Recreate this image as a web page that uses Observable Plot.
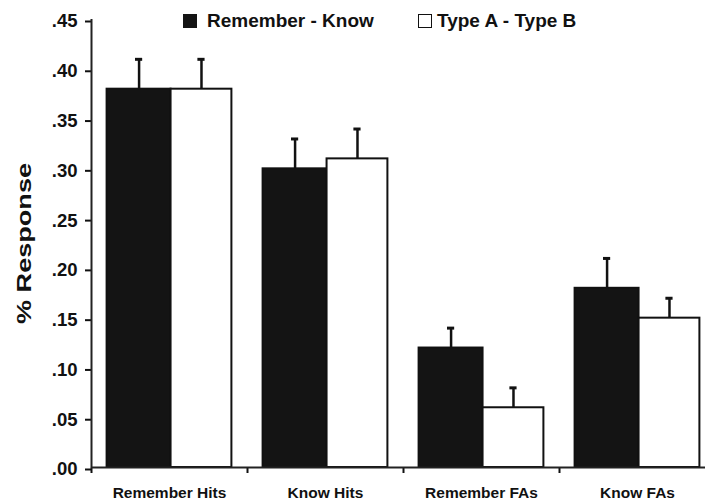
<!DOCTYPE html>
<html>
<head>
<meta charset="utf-8">
<script src="https://cdn.jsdelivr.net/npm/d3@7"></script>
<script src="https://cdn.jsdelivr.net/npm/@observablehq/plot@0.6"></script>
<style>
  html, body { margin: 0; padding: 0; overflow: hidden; background: #fff; }
  #wrap { position: relative; width: 705px; height: 501px; font-family: "Liberation Sans", Arial, sans-serif; font-weight: bold; color: #111; }
  .leg { position: absolute; top: 9px; font-size: 19px; line-height: 24px; white-space: nowrap; display: flex; align-items: center; }
  .sw { display: inline-block; width: 14px; height: 14px; box-sizing: border-box; margin-right: 9px; }
</style>
</head>
<body>
<div id="wrap"></div>
<script>
const categories = ["Remember Hits", "Know Hits", "Remember FAs", "Know FAs"];
const seriesNames = ["Remember - Know", "Type A - Type B"];
const rememberKnow = [0.38, 0.30, 0.12, 0.18];
const rememberKnowErr = [0.03, 0.03, 0.02, 0.03];
const typeAB = [0.38, 0.31, 0.06, 0.15];
const typeABErr = [0.03, 0.03, 0.02, 0.02];
const yTicks = [0, 0.05, 0.10, 0.15, 0.20, 0.25, 0.30, 0.35, 0.40, 0.45];

const seriesFill = {"Remember - Know": "#141414", "Type A - Type B": "#ffffff"};
const slots = {"Remember - Know": [0.1, 0.51], "Type A - Type B": [0.51, 0.9]};

const bars = [];
categories.forEach((cat, i) => {
  [[seriesNames[0], rememberKnow[i], rememberKnowErr[i]],
   [seriesNames[1], typeAB[i], typeABErr[i]]].forEach(([s, v, e]) => {
    const [a, b] = slots[s];
    bars.push({cat, series: s, value: v, err: e, x1: i + a, x2: i + b, xc: i + (a + b) / 2});
  });
});

const chart = Plot.plot({
  width: 705,
  height: 501,
  marginLeft: 91,
  marginRight: -10,
  marginTop: 19,
  marginBottom: 34,
  style: {fontFamily: "'Liberation Sans', Arial, sans-serif", fontWeight: "bold", color: "#111", background: "#fff"},
  x: {domain: [0, categories.length], axis: null},
  y: {domain: [0, 0.45], axis: null},
  marks: [
    Plot.ruleX(bars, {x: "xc", y1: "value", y2: d => d.value + d.err, stroke: "#111", strokeWidth: 2.5}),
    Plot.ruleY(bars, {y: d => d.value + d.err, x1: d => d.xc - 0.023, x2: d => d.xc + 0.023, stroke: "#111", strokeWidth: 3}),
    Plot.rectY(bars, {x1: "x1", x2: "x2", y: "value", fill: d => seriesFill[d.series], stroke: "#111", strokeWidth: 2}),
    Plot.axisY({ticks: yTicks, tickFormat: d => d3.format(".2f")(d).replace(/^0/, ""), tickSize: 6, tickPadding: 8, fontSize: 18.5, strokeWidth: 2, label: null, dy: 2, fill: "#111"}),
    Plot.axisX({ticks: d3.range(categories.length + 1), tickFormat: () => "", tickSize: 6, strokeWidth: 2, label: null}),
    Plot.axisX({ticks: categories.map((c, i) => i + 0.5), tickFormat: d => categories[Math.floor(d)], tickSize: 0, tickPadding: 19, fontSize: 15.5, label: null, fill: "#111"}),
    Plot.ruleX([0], {stroke: "#222", strokeWidth: 2}),
    Plot.ruleY([0], {stroke: "#222", strokeWidth: 2}),
    Plot.text(["% Response"], {frameAnchor: "left", rotate: -90, dx: -67, fontSize: 21, fill: "#111", lineAnchor: "middle", textAnchor: "middle"})
  ]
});

const wrap = document.getElementById("wrap");
wrap.appendChild(chart);

// stretch the y label to match reference proportions
d3.select(chart).selectAll("text").filter(function() { return this.textContent === "% Response"; })
  .attr("textLength", 161).attr("lengthAdjust", "spacingAndGlyphs");

const legendPos = [183, 418];
seriesNames.forEach((s, k) => {
  const d = document.createElement("div");
  d.className = "leg";
  d.style.left = legendPos[k] + "px";
  const sw = document.createElement("span");
  sw.className = "sw";
  sw.style.background = seriesFill[s];
  sw.style.border = k === 0 ? "1px solid #141414" : "1.5px solid #111";
  sw.style.marginRight = k === 0 ? "10px" : "5px";
  d.appendChild(sw);
  d.appendChild(document.createTextNode(s));
  wrap.appendChild(d);
});
</script>
</body>
</html>
